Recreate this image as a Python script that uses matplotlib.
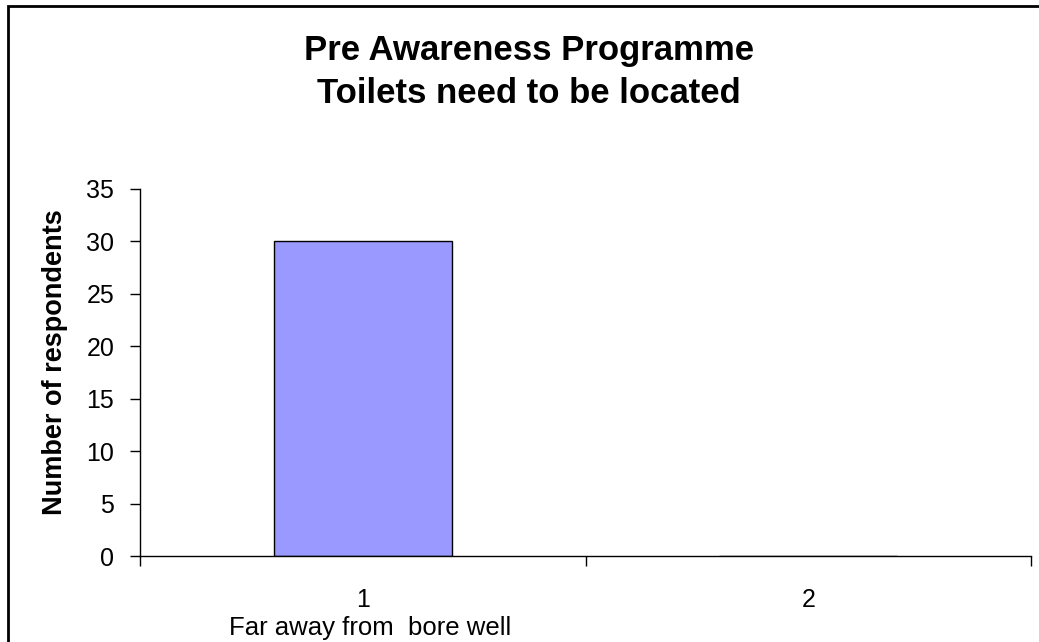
import matplotlib.pyplot as plt
from matplotlib.patches import Rectangle

plt.rcParams['font.family'] = ['Liberation Sans', 'DejaVu Sans']

# data
categories = ['1', '2']
counts = [30, 0]
yticks = [0, 5, 10, 15, 20, 25, 30, 35]
sublabel = 'Far away from  bore well'

W, H = 1039, 642
fig = plt.figure(figsize=(W / 100, H / 100), dpi=100)

# chart area border (runs off the right/bottom edge like the original)
fig.patches.append(Rectangle((8 / W, -0.05), 1.1, 1 - 6 / H + 0.05,
                             transform=fig.transFigure, fill=False,
                             edgecolor='black', linewidth=2))

ax = fig.add_axes([140 / W, 1 - 556 / H, (1031 - 140) / W, (556 - 189) / H])

x = list(range(len(categories)))
ax.bar(x, counts, width=0.4, color='#9999FF', edgecolor='black', linewidth=1)

ax.set_xlim(-0.5, len(categories) - 0.5)
ax.set_ylim(0, 35)
ax.set_yticks(yticks)
ax.set_xticks([i - 0.5 for i in range(len(categories) + 1)])
ax.set_xticklabels([])
ax.set_xticks(x, minor=True)
ax.set_xticklabels(categories, minor=True)
ax.tick_params(axis='x', which='minor', length=0, pad=23, labelsize=18)
ax.tick_params(axis='x', which='major', length=7.5, direction='out', width=1)
ax.tick_params(axis='y', length=7.5, direction='out', width=1, labelsize=18, pad=11)

for s in ['top', 'right']:
    ax.spines[s].set_visible(False)
ax.spines['left'].set_linewidth(1)
ax.spines['bottom'].set_linewidth(1)

ax.set_ylabel('Number of respondents', fontsize=19.5, fontweight='bold')
ax.yaxis.set_label_coords((68 - 140) / (1031 - 140), (556 - 362) / (556 - 189))

fig.text(370 / W, 1 - 628 / H, sublabel, ha='center', va='center', fontsize=18.5)

fig.text(529 / W, 1 - 60 / H, 'Pre Awareness Programme', ha='center', va='baseline',
         fontsize=25, fontweight='bold')
fig.text(529 / W, 1 - 103 / H, 'Toilets need to be located', ha='center', va='baseline',
         fontsize=25, fontweight='bold')

fig.savefig('out.png', dpi=100)
